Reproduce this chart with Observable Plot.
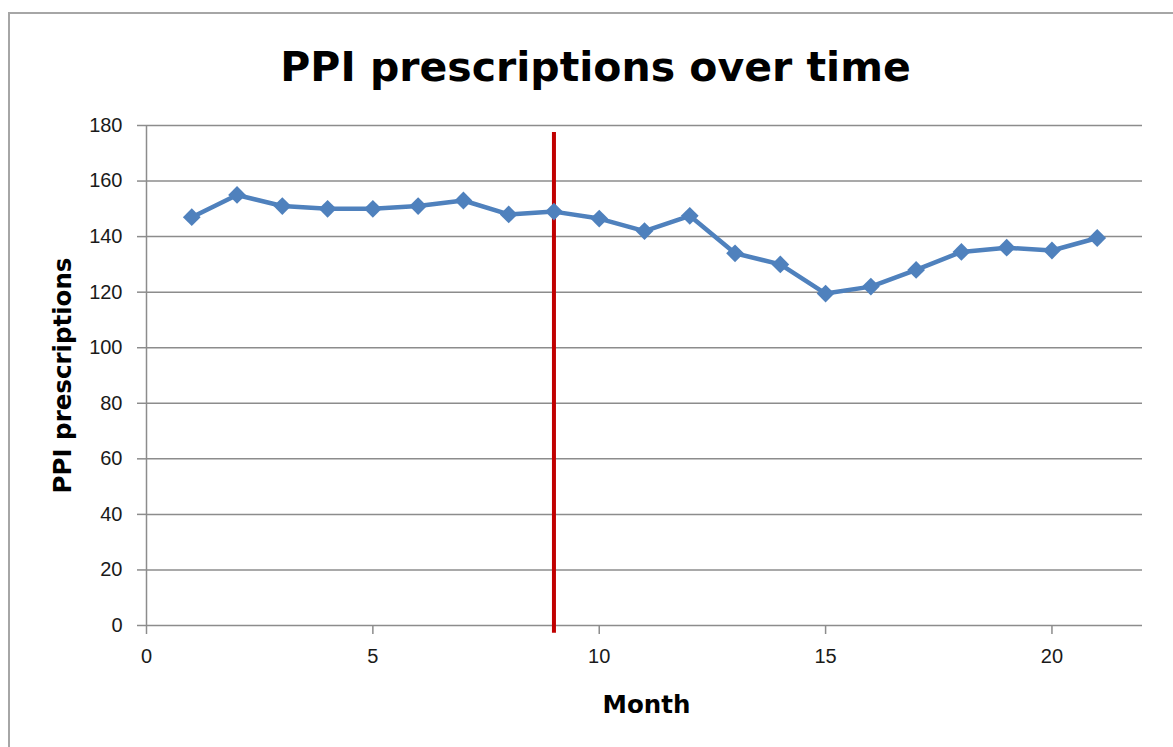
<!DOCTYPE html>
<html>
<head>
<meta charset="utf-8">
<script src="https://cdn.jsdelivr.net/npm/d3@7"></script>
<script src="https://cdn.jsdelivr.net/npm/@observablehq/plot@0.6"></script>
<style>
  html, body { margin: 0; padding: 0; background: #fff; }
  #wrap { position: relative; width: 1173px; height: 747px; overflow: hidden; }
  #frame { position: absolute; left: 8px; top: 12px; width: 1200px; height: 800px;
           border-left: 2px solid #a6a6a6; border-top: 2px solid #a6a6a6; box-sizing: border-box; }
  #chart { position: absolute; left: 0; top: 0; }
</style>
</head>
<body>
<div id="wrap"><div id="frame"></div><div id="chart"></div></div>
<script>
const title = "PPI prescriptions over time";
const xLabel = "Month";
const yLabel = "PPI prescriptions";
const months = [1, 2, 3, 4, 5, 6, 7, 8, 9, 10, 11, 12, 13, 14, 15, 16, 17, 18, 19, 20, 21];
const prescriptions = [147, 155, 151, 150, 150, 151, 153, 148, 149, 146.5, 142, 147.5, 134, 130, 119.5, 122, 128, 134.5, 136, 135, 139.5];
const xTicks = [0, 5, 10, 15, 20];
const yTicks = [0, 20, 40, 60, 80, 100, 120, 140, 160, 180];
const interventionMonth = [9];
const interventionRange = [-2.8, 177.5];

const data = months.map((m, i) => ({month: m, value: prescriptions[i]}));

const chart = Plot.plot({
  width: 1173,
  height: 747,
  marginLeft: 146,
  marginRight: 31,
  marginTop: 125,
  marginBottom: 122,
  style: {fontFamily: "'Liberation Sans', Arial, sans-serif", background: "transparent", overflow: "visible"},
  x: {domain: [0, 22]},
  y: {domain: [0, 180]},
  marks: [
    Plot.ruleY(yTicks, {stroke: "#8c8c8c", strokeWidth: 1.5}),
    Plot.ruleX([0], {stroke: "#8c8c8c", strokeWidth: 1.5}),
    Plot.axisY({ticks: yTicks, tickSize: 9, tickPadding: 15, fontSize: 20, label: null,
                stroke: "#8c8c8c", strokeWidth: 1.5, fill: "#1a1a1a"}),
    Plot.axisX({ticks: xTicks, tickSize: 9, tickPadding: 14, fontSize: 20, label: null,
                stroke: "#8c8c8c", strokeWidth: 1.5, fill: "#1a1a1a"}),
    Plot.ruleX(interventionMonth, {y1: interventionRange[0], y2: interventionRange[1], stroke: "#c00000", strokeWidth: 4}),
    Plot.line(data, {x: "month", y: "value", stroke: "#4f81bd", strokeWidth: 4.5, strokeLinejoin: "round"}),
    Plot.dot(data, {x: "month", y: "value", symbol: "diamond2", r: 8, fill: "#4f81bd", stroke: "none"}),
    Plot.text([title], {frameAnchor: "top", dx: -49, dy: -45, lineAnchor: "bottom",
                        fontFamily: "'DejaVu Sans', sans-serif", fontWeight: "bold", fontSize: 41, fill: "#000"}),
    Plot.text([yLabel], {frameAnchor: "left", textAnchor: "middle", dx: -83, rotate: -90,
                         fontFamily: "'DejaVu Sans', sans-serif", fontWeight: "bold", fontSize: 24.5, fill: "#000"}),
    Plot.text([xLabel], {frameAnchor: "bottom", dx: 2, dy: 87, lineAnchor: "bottom",
                         fontFamily: "'DejaVu Sans', sans-serif", fontWeight: "bold", fontSize: 24.5, fill: "#000"})
  ]
});
document.getElementById("chart").appendChild(chart);
</script>
</body>
</html>
